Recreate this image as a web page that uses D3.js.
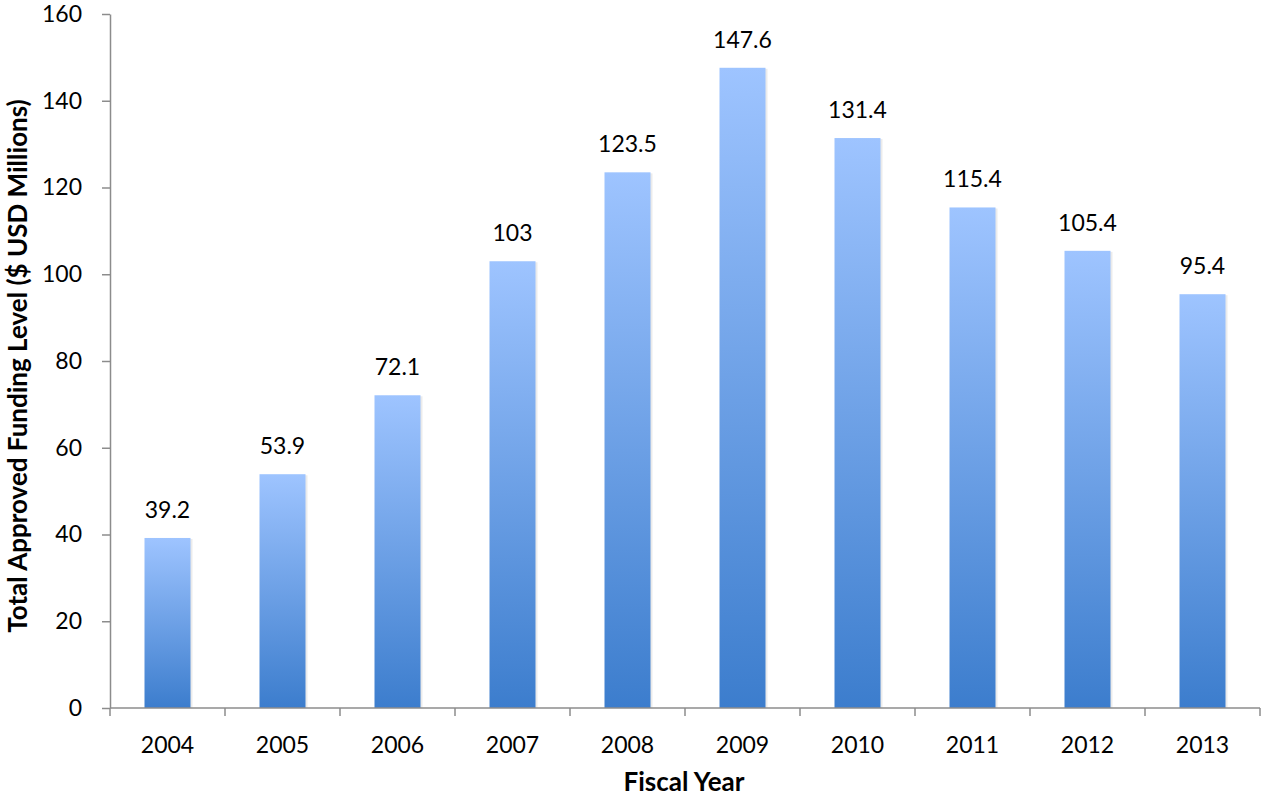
<!DOCTYPE html>
<html>
<head>
<meta charset="utf-8">
<script src="https://cdn.jsdelivr.net/npm/d3@7"></script>
<style>
  body { margin: 0; background: #fff; }
  text { font-family: Lato, "Open Sans", sans-serif; fill: #000; }
  .axis path, .axis line { stroke: #8c8c8c; stroke-width: 1.5; }
</style>
</head>
<body>
<div class="chart"></div>
<script>
// chart data
const years = ["2004", "2005", "2006", "2007", "2008", "2009", "2010", "2011", "2012", "2013"];
const funding = [39.2, 53.9, 72.1, 103, 123.5, 147.6, 131.4, 115.4, 105.4, 95.4];
const yTicks = [0, 20, 40, 60, 80, 100, 120, 140, 160];

(function(){
    const
        svgWidth = 1265,
        svgHeight = 800;

    const margin = { top: 14, right: 5, bottom: 92, left: 110 };

    const width = svgWidth - margin.left - margin.right;
    const height = svgHeight - margin.top - margin.bottom;

    const svg = d3.select(".chart")
        .append("svg")
        .attr("width", svgWidth)
        .attr("height", svgHeight);

    // vertical gradient, one per bar (bounding box units)
    const defs = svg.append("defs");
    const grad = defs.append("linearGradient")
        .attr("id", "barGrad")
        .attr("x1", 0).attr("y1", 0)
        .attr("x2", 0).attr("y2", 1);
    grad.append("stop").attr("offset", "0%").attr("stop-color", "#9ec4ff");
    grad.append("stop").attr("offset", "100%").attr("stop-color", "#3c7dcd");

    const chartGroup = svg.append("g")
        .attr("transform", `translate(${margin.left}, ${margin.top})`);

    // scales
    const x = d3.scaleBand()
        .domain(years)
        .range([0, width])
        .paddingInner(0.6)
        .paddingOuter(0.3);

    const y = d3.scaleLinear()
        .domain([0, 160])
        .range([height, 0]);

    // bars: faint shadow then gradient fill
    chartGroup.selectAll("rect.shadow")
        .data(funding)
        .enter()
        .append("rect")
        .classed("shadow", true)
        .attr("x", (d, i) => x(years[i]) + 2)
        .attr("y", d => y(d) + 1)
        .attr("width", x.bandwidth())
        .attr("height", d => height - y(d) - 1)
        .attr("fill", "#000")
        .attr("opacity", 0.08);

    chartGroup.selectAll("rect.bar")
        .data(funding)
        .enter()
        .append("rect")
        .classed("bar", true)
        .attr("x", (d, i) => x(years[i]))
        .attr("y", d => y(d))
        .attr("width", x.bandwidth())
        .attr("height", d => height - y(d))
        .attr("fill", "url(#barGrad)");

    // value labels
    chartGroup.selectAll("text.val")
        .data(funding)
        .enter()
        .append("text")
        .classed("val", true)
        .attr("x", (d, i) => x(years[i]) + x.bandwidth() / 2)
        .attr("y", d => y(d) - 20)
        .attr("text-anchor", "middle")
        .style("font-size", "23px")
        .text(d => d);

    // y axis
    const leftAxis = d3.axisLeft(y)
        .tickValues(yTicks)
        .tickSize(8)
        .tickPadding(20)
        .tickSizeOuter(0);

    const gy = chartGroup.append("g")
        .attr("class", "axis")
        .call(leftAxis);
    gy.selectAll("text").style("font-size", "23px");

    // x axis: ticks at category boundaries
    const xAxis = chartGroup.append("g")
        .attr("class", "axis")
        .attr("transform", `translate(0, ${height})`);

    xAxis.append("line")
        .attr("x1", 0).attr("x2", width)
        .attr("y1", 0).attr("y2", 0);

    const step = x.step();
    xAxis.selectAll("line.tick")
        .data(d3.range(years.length + 1))
        .enter()
        .append("line")
        .attr("x1", i => i * step).attr("x2", i => i * step)
        .attr("y1", 0).attr("y2", 8);

    xAxis.selectAll("text")
        .data(years)
        .enter()
        .append("text")
        .attr("x", d => x(d) + x.bandwidth() / 2)
        .attr("y", 45)
        .attr("text-anchor", "middle")
        .style("font-size", "23px")
        .text(d => d);

    // axis titles
    chartGroup.append("text")
        .attr("transform", "rotate(-90)")
        .attr("x", -(366 - margin.top))
        .attr("y", -margin.left + 27)
        .attr("text-anchor", "middle")
        .style("font-size", "26px")
        .style("font-weight", "bold")
        .text("Total Approved Funding Level ($ USD Millions)");

    chartGroup.append("text")
        .attr("x", 684 - margin.left)
        .attr("y", height + 83)
        .attr("text-anchor", "middle")
        .style("font-size", "26px")
        .style("font-weight", "bold")
        .text("Fiscal Year");
})();
</script>
</body>
</html>
